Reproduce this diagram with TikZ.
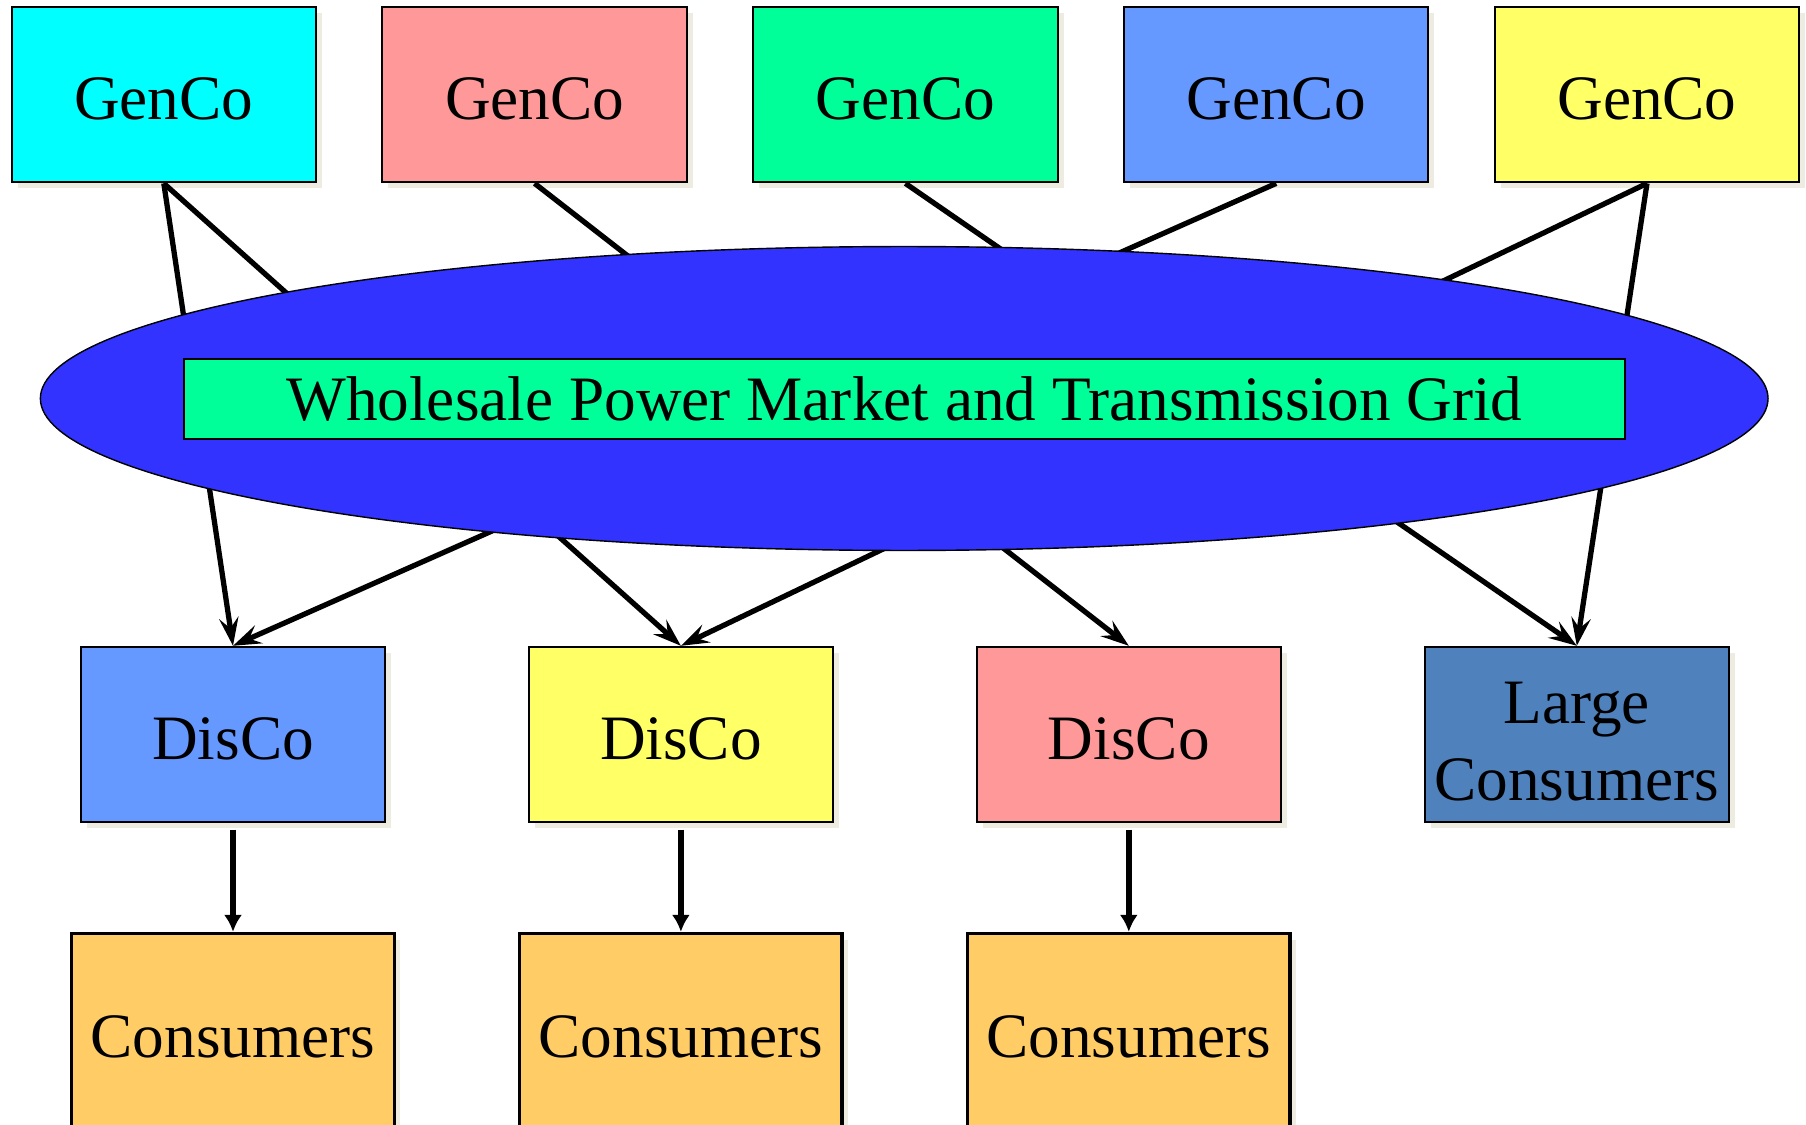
\documentclass[tikz,border=0pt]{standalone}
\usepackage{fontspec}
\setmainfont{Liberation Serif}
\usepackage{tikz}
\usetikzlibrary{arrows.meta}
\usetikzlibrary{shapes.geometric, shadows}

\definecolor{genA}{HTML}{00FFFF}
\definecolor{genB}{HTML}{FF9999}
\definecolor{genC}{HTML}{00FF99}
\definecolor{genD}{HTML}{6699FF}
\definecolor{genE}{HTML}{FFFF66}
\definecolor{gridblue}{HTML}{3333FF}
\definecolor{largeblue}{HTML}{4F81BD}
\definecolor{consorange}{HTML}{FFCC66}
\definecolor{shadowgray}{HTML}{EEEBE0}

\begin{document}
\begin{tikzpicture}[x=0.02cm, y=-0.02cm]
\tikzset{font=\fontsize{36}{43.5}\selectfont}
\tikzset{company/.style={draw, line width=1.1pt, minimum width=6.09cm, minimum height=3.51cm, inner sep=0pt, align=center, drop shadow={shadow xshift=0.12cm, shadow yshift=-0.12cm, fill=shadowgray, opacity=1}}}
\tikzset{oneline/.style={company, text height=28pt, text depth=0pt}}
\tikzset{consumer/.style={oneline, line width=1.9pt, minimum width=6.45cm, minimum height=3.98cm, fill=consorange}}
\tikzset{feed/.style={line width=3pt, -{Stealth[length=16pt, width=11pt, inset=6pt]}}}
\tikzset{supply/.style={line width=3.4pt, -{Latex[length=9.6pt, width=10.2pt]}, shorten <=0.13cm}}
\useasboundingbox (0,0) rectangle (1806,1125);
% generating companies
\foreach \i/\c in {1/genA, 2/genB, 3/genC, 4/genD, 5/genE}
  \node[oneline, fill=\c] (gen\i) at ({163.8+370.8*(\i-1)}, 94.7) {GenCo};
% distribution companies and consumers
\node[oneline, fill=genD] (dis1) at (233, 734.5) {DisCo};
\node[oneline, fill=genE] (dis2) at (680.9, 734.5) {DisCo};
\node[oneline, fill=genB] (dis3) at (1128.8, 734.5) {DisCo};
\node[company, fill=largeblue, text height=75pt, text depth=0pt] (large) at (1576.8, 734.5) {Large\\Consumers};
\foreach \i in {1,2,3}
  \node[consumer] (cons\i) at ({233+447.9*(\i-1)}, 1033) {Consumers};
% power flows
\draw[feed] (gen1.south) -- (dis1.north);
\draw[feed] (gen1.south) -- (dis2.north);
\draw[feed] (gen2.south) -- (dis3.north);
\draw[feed] (gen3.south) -- (large.north);
\draw[feed] (gen4.south) -- (dis1.north);
\draw[feed] (gen5.south) -- (dis2.north);
\draw[feed] (gen5.south) -- (large.north);
\foreach \i in {1,2,3}
  \draw[supply] (dis\i.south) -- (cons\i.north);
% market and grid
\node[ellipse, draw, line width=0.8pt, fill=gridblue, minimum width=34.56cm, minimum height=6.08cm, inner sep=0pt] (grid) at (904.2, 398.5) {};
\node[draw, line width=1.1pt, fill=genC, minimum width=28.82cm, minimum height=1.59cm, inner sep=0pt] (market) at (904.5, 399) {Wholesale Power Market and Transmission Grid};
\end{tikzpicture}
\end{document}
